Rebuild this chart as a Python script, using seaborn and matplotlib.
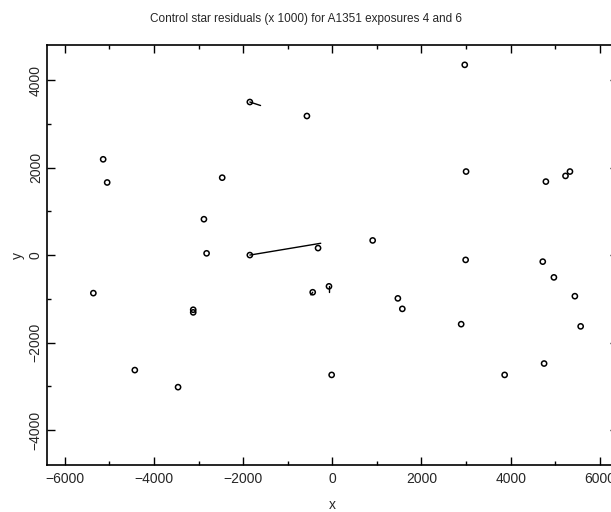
import numpy as np
import pandas as pd
import matplotlib
matplotlib.use("Agg")
import matplotlib.pyplot as plt
import seaborn as sns
from matplotlib.ticker import MultipleLocator

# star positions (pixels on chip)
x = [2970, -1850, -570, -5140, -5050, -2470, 3000, 5330, 5230, 4790,
     -2880, -2820, -1850, -320, 905, -440, -75, 1470, 1570, -15,
     -5360, -3120, -3120, -4430, -3460, 2990, 4720, 4970, 5440, 2890,
     5570, 4750, 3865]
y = [4350, 3500, 3180, 2190, 1660, 1770, 1910, 1910, 1810, 1680,
     820, 40, 0, 160, 335, -850, -715, -990, -1230, -2740,
     -870, -1250, -1310, -2630, -3020, -110, -150, -510, -940, -1580,
     -1630, -2480, -2740]
# residual vectors (x 1000)
dx = [0, 240, 0, 0, 0, 0, 0, 0, 0, 0,
      0, 0, 1590, 0, 0, -40, 0, 0, 0, 0,
      0, 0, 0, 0, 0, 0, 0, 0, 0, 0,
      0, 0, 0]
dy = [0, -80, 0, 0, 0, 0, 0, 0, 0, 0,
      0, 0, 270, 0, 0, -60, -120, 0, 0, 0,
      0, 0, 0, 0, 0, 0, 0, 0, 0, 0,
      0, 0, 0]

df = pd.DataFrame({'x': x, 'y': y, 'dx': dx, 'dy': dy})

sns.set_style('ticks')
plt.rcParams['font.family'] = ['Liberation Sans', 'DejaVu Sans']

fig = plt.figure(figsize=(6.11, 5.12), dpi=100)
ax = fig.add_axes([0.0769, 0.0918, 0.934, 0.820])

# residual vectors
for _, r in df.iterrows():
    if r['dx'] != 0 or r['dy'] != 0:
        ax.plot([r['x'], r['x'] + r['dx']], [r['y'], r['y'] + r['dy']],
                color='black', lw=1.0)

sns.scatterplot(data=df, x='x', y='y', ax=ax, marker='o', s=14,
                facecolor='none', edgecolor='black', linewidth=1.1)

ax.set_xlim(-6400, 6400)
ax.set_ylim(-4800, 4800)
ax.xaxis.set_major_locator(MultipleLocator(2000))
ax.xaxis.set_minor_locator(MultipleLocator(1000))
ax.yaxis.set_major_locator(MultipleLocator(2000))
ax.yaxis.set_minor_locator(MultipleLocator(1000))
ax.tick_params(which='both', direction='in', top=True, right=True,
               color='black', width=1.0)
ax.tick_params(which='major', length=6, labelsize=10, pad=5)
ax.tick_params(axis='y', which='major', pad=3)
ax.tick_params(which='minor', length=3)
for lab in ax.get_yticklabels():
    lab.set_rotation(90)
    lab.set_va('center')
for s in ax.spines.values():
    s.set_linewidth(1.2)
    s.set_color('black')

ax.set_xlabel('x', fontsize=10, labelpad=9)
ax.set_ylabel('y', fontsize=10, labelpad=3)
fig.suptitle('Control star residuals (x 1000) for A1351 exposures 4 and 6',
             fontsize=8.5, y=0.975)

fig.savefig('out.png', dpi=100)
